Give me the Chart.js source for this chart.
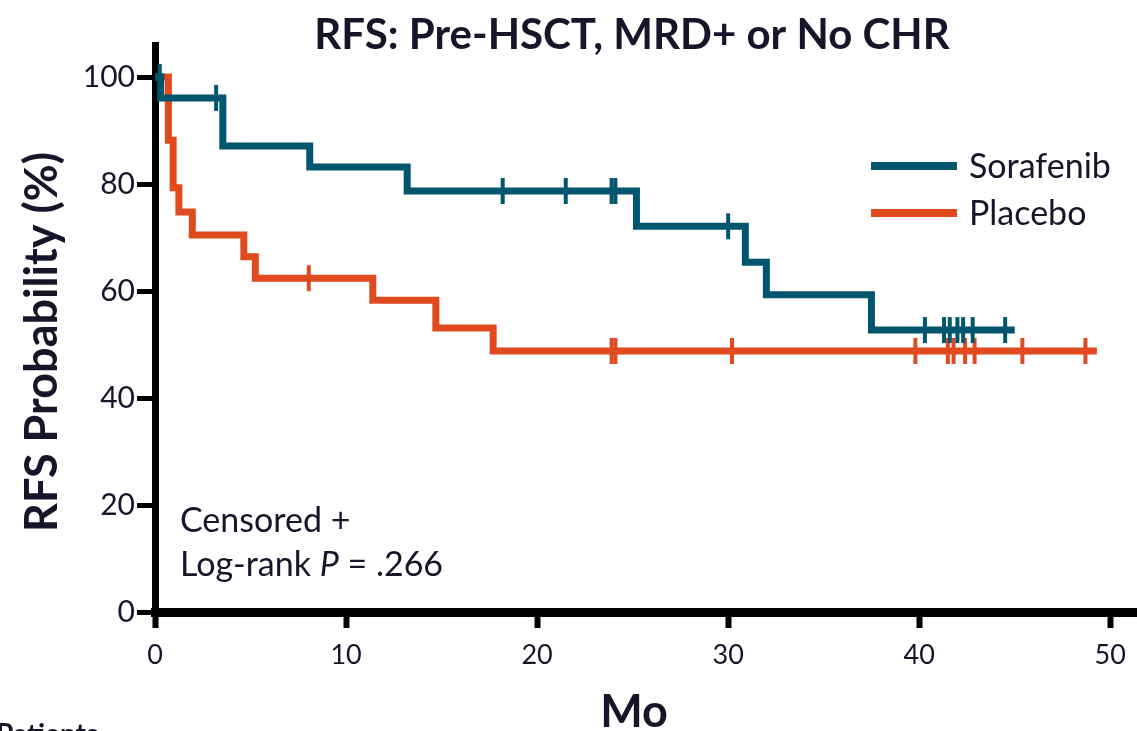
<!DOCTYPE html>
<html>
<head>
<meta charset="utf-8">
<script src="https://cdn.jsdelivr.net/npm/chart.js@4.4.1/dist/chart.umd.min.js"></script>
<style>
    html, body { margin: 0; padding: 0; background: #fff; overflow: hidden; }
    #wrap { width: 1137px; height: 731px; position: relative; }
    #kmChart { display: block; }
</style>
</head>
<body>
<div id="wrap"><canvas id="kmChart" width="1137" height="731"></canvas></div>
<script>
// === DATOS ===
const xTicks = [0, 10, 20, 30, 40, 50];
const yTicks = [0, 20, 40, 60, 80, 100];

// Sorafenib: tiempo (meses) donde cambia la curva y supervivencia (%)
const sorafenibTime = [0, 0.3, 3.55, 8.1, 13.2, 25.2, 30.9, 32.0, 37.5, 45.0];
const sorafenibSurv = [100, 96.1, 87.1, 83.2, 78.7, 72.1, 65.4, 59.3, 52.7, 52.7];
const sorafenibCensor = [0.25, 3.2, 18.2, 21.5, 23.9, 24.1, 30.0, 40.3, 41.3, 41.6, 42.0, 42.3, 42.8, 44.5];

// Placebo
const placeboTime = [0, 0.7, 0.95, 1.25, 1.95, 4.65, 5.25, 11.4, 14.7, 17.7, 49.3];
const placeboSurv = [100, 88.2, 79.3, 74.8, 70.5, 66.4, 62.4, 58.3, 53.1, 48.8, 48.8];
const placeboCensor = [8.05, 23.9, 24.1, 30.2, 39.8, 41.5, 41.8, 42.4, 42.9, 45.4, 48.7];

const COLOR_SORA = "#00566f";
const COLOR_PLAC = "#e04a1e";
const TEXT_COLOR = "#16162a";
const FONT = "Lato, 'Open Sans', sans-serif";

// valor de la curva escalonada en un tiempo dado
function survAt(times, surv, t) {
    let s = surv[0];
    for (let i = 0; i < times.length; i++) {
        if (times[i] <= t) s = surv[i];
    }
    return s;
}

const toPoints = (xs, ys) => xs.map((x, i) => ({ x: x, y: ys[i] }));
const censorPoints = (cs, times, surv) => cs.map(t => ({ x: t, y: survAt(times, surv, t) }));

function censorDataset(label, pts, color) {
    return {
        label: label,
        data: pts,
        showLine: false,
        pointStyle: "line",
        rotation: 90,
        pointRadius: 13,
        pointHoverRadius: 13,
        pointBorderWidth: 4,
        borderColor: color,
        backgroundColor: color,
        clip: false
    };
}

// === TEXTOS, LEYENDA Y TITULOS ===
const textPlugin = {
    id: "kmText",
    afterDraw(chart) {
        const ctx = chart.ctx;
        const area = chart.chartArea;
        ctx.save();
        ctx.fillStyle = TEXT_COLOR;

        // Titulo
        ctx.font = `bold 42px ${FONT}`;
        ctx.textAlign = "center";
        ctx.textBaseline = "middle";
        ctx.fillText("RFS: Pre-HSCT, MRD+ or No CHR", 632, 35);

        // Titulo eje Y
        ctx.save();
        ctx.translate(42, 342);
        ctx.rotate(-Math.PI / 2);
        ctx.font = `bold 45px ${FONT}`;
        ctx.fillText("RFS Probability (%)", 0, 0);
        ctx.restore();

        // Titulo eje X
        ctx.font = `bold 45px ${FONT}`;
        ctx.textBaseline = "alphabetic";
        ctx.fillText("Mo", 634, 727);

        // Leyenda
        const legend = [
            { label: "Sorafenib", color: COLOR_SORA, y: 166 },
            { label: "Placebo", color: COLOR_PLAC, y: 213 }
        ];
        ctx.textAlign = "left";
        ctx.textBaseline = "middle";
        ctx.font = `34px ${FONT}`;
        legend.forEach(item => {
            ctx.strokeStyle = item.color;
            ctx.lineWidth = 8;
            ctx.beginPath();
            ctx.moveTo(871, item.y);
            ctx.lineTo(957, item.y);
            ctx.stroke();
            ctx.fillText(item.label, 969, item.y + 1);
        });

        // Anotacion
        const ax = area.left + 25;
        ctx.textBaseline = "alphabetic";
        ctx.font = `34px ${FONT}`;
        ctx.fillText("Censored +", ax, 532);
        let px = ax;
        const parts = [
            { t: "Log-rank ", f: `34px ${FONT}` },
            { t: "P", f: `italic 34px ${FONT}` },
            { t: " = .266", f: `34px ${FONT}` }
        ];
        parts.forEach(p => {
            ctx.font = p.f;
            ctx.fillText(p.t, px, 576);
            px += ctx.measureText(p.t).width;
        });

        // Texto cortado abajo
        ctx.font = `bold 28px ${FONT}`;
        ctx.textBaseline = "top";
        ctx.fillText("Patients", -4, 721);
        ctx.restore();
    }
};

const ctx = document.getElementById("kmChart").getContext("2d");
new Chart(ctx, {
    type: "scatter",
    data: {
        datasets: [
            {
                label: "Sorafenib",
                data: toPoints(sorafenibTime, sorafenibSurv),
                showLine: true,
                stepped: true,
                borderColor: COLOR_SORA,
                borderWidth: 7,
                pointRadius: 0,
                pointHoverRadius: 0,
                clip: false
            },
            censorDataset("Sorafenib censored", censorPoints(sorafenibCensor, sorafenibTime, sorafenibSurv), COLOR_SORA),
            {
                label: "Placebo",
                data: toPoints(placeboTime, placeboSurv),
                showLine: true,
                stepped: true,
                borderColor: COLOR_PLAC,
                borderWidth: 7,
                pointRadius: 0,
                pointHoverRadius: 0,
                clip: false
            },
            censorDataset("Placebo censored", censorPoints(placeboCensor, placeboTime, placeboSurv), COLOR_PLAC)
        ]
    },
    options: {
        responsive: false,
        animation: false,
        layout: { autoPadding: false, padding: { top: 45, left: 0, right: 0, bottom: 0 } },
        plugins: {
            legend: { display: false },
            tooltip: { enabled: false },
            title: { display: false }
        },
        scales: {
            x: {
                type: "linear",
                min: 0,
                max: 51.4,
                afterBuildTicks: s => { s.ticks = xTicks.map(v => ({ value: v })); },
                afterFit: s => { s.height = 119; s.paddingLeft = 0; s.paddingRight = 0; },
                grid: { drawOnChartArea: false, drawTicks: true, tickLength: 16, tickWidth: 6, tickColor: "#000" },
                border: { display: true, width: 9, color: "#000" },
                ticks: { color: TEXT_COLOR, font: { family: FONT, size: 27 }, padding: 11, maxRotation: 0 }
            },
            y: {
                type: "linear",
                min: 0,
                max: 106,
                afterBuildTicks: s => { s.ticks = yTicks.map(v => ({ value: v })); },
                afterFit: s => { s.width = 155; s.paddingTop = 0; s.paddingBottom = 0; },
                grid: { drawOnChartArea: false, drawTicks: true, tickLength: 18, tickWidth: 5, tickColor: "#000" },
                border: { display: true, width: 7, color: "#000" },
                ticks: { color: TEXT_COLOR, font: { family: FONT, size: 30 }, padding: 2 }
            }
        }
    },
    plugins: [textPlugin]
});
</script>
</body>
</html>
